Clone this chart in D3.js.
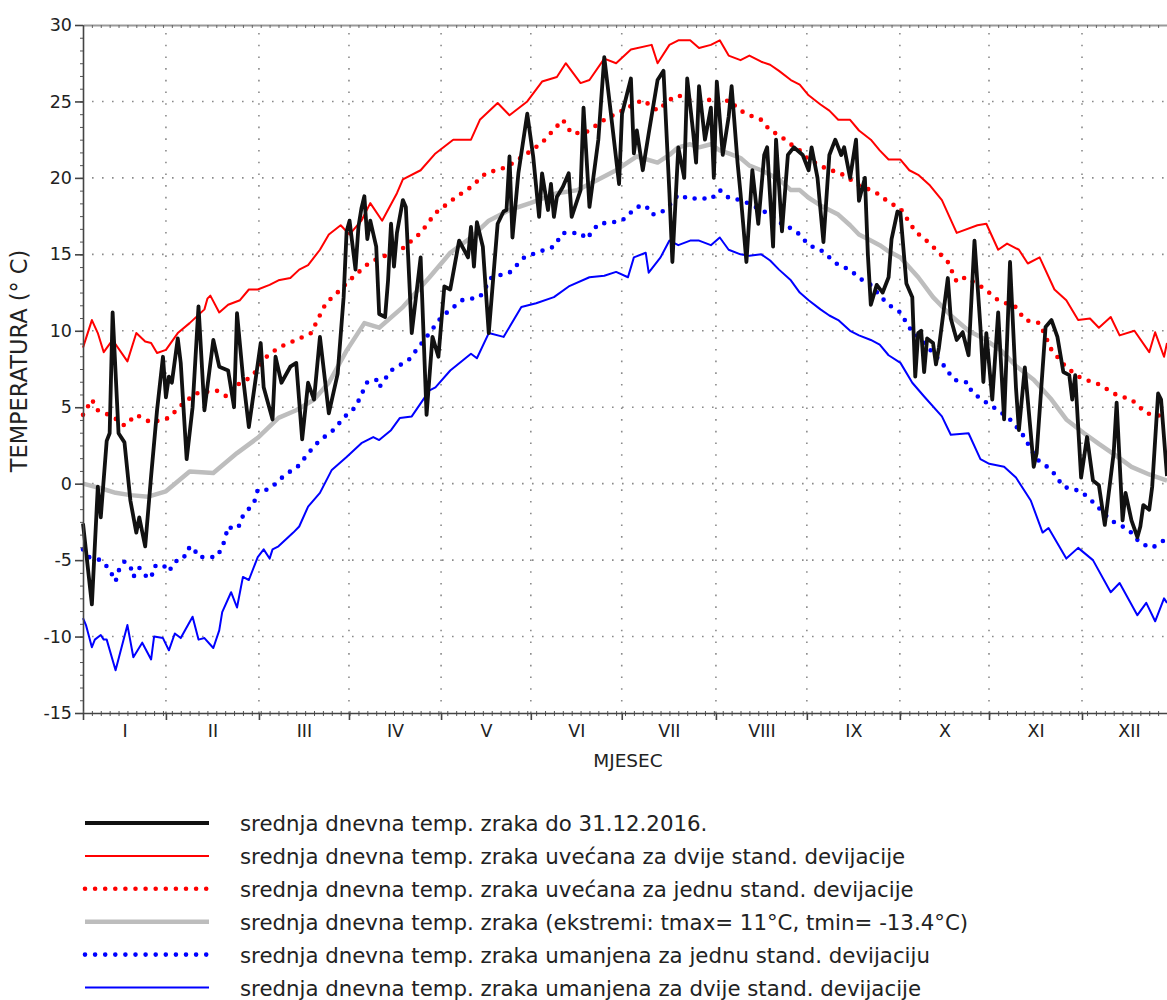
<!DOCTYPE html>
<html><head><meta charset="utf-8">
<script src="https://cdn.jsdelivr.net/npm/d3@7"></script>
<style>
body{margin:0;background:#fff}
svg{display:block;background:#fff}
text{font-family:"DejaVu Sans",sans-serif;fill:#222}
</style>
</head><body>
<svg id="chart" width="1167" height="1000"></svg>
<script>
// ---------- data (day of year index, temperature °C) ----------
const monthLabels = ["I","II","III","IV","V","VI","VII","VIII","IX","X","XI","XII"];
// month boundary ticks, in day units
const monthEdges = [0, 28, 59.4, 89.8, 120.9, 151.2, 181.9, 213.7, 244.4, 275.8, 305.9, 337.3, 369];
const yTicks = [-15,-10,-5,0,5,10,15,20,25,30];
const yGrid = [-10,-5,0,5,10,15,20,25];

const tempMean = [[0,0.0],[6,-0.3],[11,-0.6],[16,-0.75],[22,-0.85],[28,-0.5],[36,0.8],[44,0.7],[52,2.0],[59,3.0],[66,4.3],[72,4.8],[78,5.5],[83,6.6],[89,8.7],[95,10.5],[100,10.2],[108,11.55],[117,13.5],[124,15.1],[131,16.1],[137,17.2],[144,17.9],[151,18.35],[160,19.0],[167,19.2],[174,19.9],[180,20.5],[187,21.4],[194,21.0],[198,21.5],[201,22.0],[205,22.2],[208,22.0],[212,22.2],[215,21.8],[218,21.6],[222,21.3],[225,20.8],[229,20.5],[232,20.2],[235,19.9],[239,19.2],[242,19.2],[245,18.7],[249,18.2],[252,17.9],[255,17.6],[259,16.9],[262,16.3],[266,15.9],[269,15.6],[272,15.2],[276,14.8],[282,13.5],[287,12.2],[293,11.0],[299,10.0],[304,9.5],[310,8.7],[315,7.7],[321,6.8],[327,5.5],[332,4.2],[338,3.3],[343,2.6],[349,1.8],[354,1.1],[360,0.6],[366,0.2]];

const tempPlus2sd = [[0,8.9],[3,10.7],[5,9.85],[7,8.6],[10,9.4],[15,8.0],[18,9.85],[21,9.3],[23,9.2],[25,8.55],[28,8.75],[32,9.85],[36,10.5],[41,11.4],[42,12.1],[43,12.3],[46,11.2],[49,11.7],[53,12.0],[56,12.7],[59,12.7],[63,13.0],[66,13.3],[70,13.45],[73,14.0],[76,14.3],[80,15.3],[83,16.3],[87,16.9],[90,16.3],[94,17.2],[97,18.35],[101,17.2],[106,19.0],[108,19.9],[114,20.5],[119,21.6],[125,22.5],[131,22.5],[134,23.8],[140,24.9],[144,24.1],[150,25.0],[155,26.3],[160,26.6],[163,27.5],[168,26.2],[171,26.4],[176,27.8],[180,27.5],[185,28.4],[192,28.7],[194,27.5],[198,28.7],[201,29.0],[205,29.0],[208,28.5],[212,28.7],[215,29.0],[218,28.0],[222,27.7],[225,28.0],[229,27.6],[232,27.4],[235,27.0],[239,26.4],[242,26.1],[245,25.4],[249,24.8],[252,24.4],[255,23.8],[259,23.8],[262,23.1],[266,22.5],[269,21.8],[272,21.2],[276,21.2],[279,20.5],[282,20.2],[286,19.5],[290,18.55],[295,16.4],[302,16.9],[305,17.0],[309,15.3],[312,15.7],[316,15.3],[319,14.4],[323,14.8],[328,12.7],[332,12.0],[336,10.7],[340,10.8],[343,10.2],[347,10.9],[350,9.7],[355,10.0],[360,8.6],[362,9.9],[365,8.3],[366,9.2]];

const tempPlus1sd = [[0,4.5],[3,5.5],[5,4.8],[10,4.4],[14,3.8],[18,4.5],[23,4.0],[29,4.3],[33,5.1],[38,5.9],[45,6.1],[49,5.65],[52,6.45],[57,7.0],[62,8.3],[66,8.9],[72,9.4],[77,9.85],[82,11.8],[87,12.7],[90,13.3],[94,14.0],[97,14.5],[108,15.4],[114,16.4],[119,17.7],[126,18.75],[131,19.4],[136,20.3],[143,20.7],[150,21.6],[155,22.3],[162,23.8],[165,22.9],[170,23.0],[176,23.8],[182,24.4],[189,25.1],[194,24.4],[198,25.1],[201,25.4],[205,25.1],[208,25.1],[212,25.1],[215,24.8],[218,25.1],[222,24.4],[225,24.1],[229,23.8],[232,23.1],[235,22.8],[239,22.2],[242,21.8],[245,21.2],[249,20.8],[252,20.5],[255,20.4],[259,19.9],[262,19.5],[266,19.2],[269,18.9],[272,18.4],[276,18.0],[281,16.5],[286,15.7],[292,14.5],[295,13.2],[298,13.5],[304,12.8],[309,12.0],[315,11.55],[318,10.7],[323,10.5],[327,8.75],[332,7.6],[337,6.9],[343,6.5],[349,5.8],[354,5.5],[359,4.6],[365,4.4]];

const tempMinus1sd = [[0,-4.3],[2,-4.8],[6,-5.0],[8,-5.4],[10,-6.0],[11,-6.4],[12,-5.7],[14,-5.1],[16,-5.4],[17,-6.1],[19,-5.5],[21,-6.0],[23,-6.2],[24,-5.4],[27,-5.3],[29,-5.75],[31,-5.1],[34,-4.9],[35,-4.3],[37,-4.1],[39,-4.8],[42,-4.8],[45,-4.8],[47,-4.2],[48,-3.55],[49,-2.8],[51,-3.0],[53,-2.7],[54,-2.1],[56,-1.65],[58,-1.1],[59,-0.4],[62,-0.4],[64,-0.2],[66,0.2],[69,0.7],[72,1.0],[77,2.2],[80,2.85],[84,3.4],[89,4.5],[92,5.0],[96,6.65],[99,6.8],[100,6.3],[104,7.4],[110,8.1],[117,9.85],[121,10.9],[128,12.0],[134,12.2],[138,13.5],[144,13.8],[149,14.8],[153,15.1],[159,15.5],[162,16.4],[168,16.4],[170,16.0],[174,17.0],[179,17.1],[182,17.2],[187,18.1],[190,18.2],[192,17.6],[195,17.7],[198,18.2],[201,18.9],[205,18.6],[208,18.7],[212,18.6],[215,19.2],[218,18.7],[222,18.55],[225,18.3],[229,17.9],[232,17.6],[235,17.1],[239,16.7],[242,16.3],[245,15.6],[249,15.3],[252,14.8],[255,14.3],[259,14.0],[262,13.45],[266,13.0],[269,12.3],[272,11.7],[276,11.2],[279,10.2],[284,9.2],[290,7.9],[294,6.8],[299,6.6],[300,6.0],[305,5.3],[309,4.8],[313,4.2],[317,3.3],[322,1.6],[327,0.9],[331,-0.2],[337,-0.5],[341,-1.2],[347,-2.4],[353,-3.0],[357,-3.9],[361,-4.2],[365,-3.7]];

const tempMinus2sd = [[0,-8.8],[1,-9.25],[3,-10.7],[4,-10.2],[6,-9.9],[7,-10.2],[8,-10.2],[11,-12.2],[15,-9.25],[17,-11.35],[20,-10.4],[23,-11.5],[24,-10.0],[27,-10.1],[29,-10.9],[31,-9.8],[33,-10.1],[37,-8.7],[39,-10.2],[41,-10.1],[44,-10.75],[46,-9.6],[47,-8.4],[50,-7.1],[52,-8.1],[54,-6.1],[56,-6.3],[59,-4.8],[61,-4.3],[63,-4.9],[64,-4.3],[66,-4.1],[69,-3.55],[71,-3.2],[73,-2.8],[76,-1.5],[80,-0.6],[84,0.9],[89,1.75],[94,2.65],[98,3.05],[100,2.85],[104,3.5],[107,4.3],[111,4.4],[117,6.1],[119,6.3],[124,7.4],[131,8.5],[133,8.2],[137,9.85],[142,9.6],[148,11.55],[153,11.8],[159,12.2],[164,12.9],[171,13.5],[176,13.6],[180,13.85],[184,13.5],[186,14.8],[190,15.1],[191,13.8],[195,14.8],[198,15.9],[201,15.6],[205,15.9],[208,15.9],[212,15.6],[215,16.1],[218,15.3],[222,15.0],[225,14.9],[229,15.0],[232,14.6],[235,14.0],[239,13.3],[242,12.5],[245,12.0],[249,11.4],[252,11.0],[255,10.7],[259,10.0],[262,9.7],[266,9.4],[269,9.1],[272,8.4],[276,7.9],[280,6.6],[284,5.7],[290,4.4],[293,3.2],[299,3.3],[303,1.6],[306,1.3],[311,1.1],[315,0.4],[320,-1.1],[324,-3.2],[326,-2.9],[332,-4.9],[336,-4.2],[341,-5.0],[347,-7.1],[350,-6.5],[356,-8.6],[359,-7.8],[362,-9.0],[365,-7.5],[366,-7.8]];

const temp2016 = [[0,-2.6],[3,-7.9],[5,-0.2],[6,-2.2],[8,2.8],[9,3.3],[10,11.2],[12,3.3],[14,2.7],[16,-1.1],[18,-3.2],[19,-2.2],[21,-4.1],[23,0.5],[25,4.8],[27,8.3],[28,5.65],[29,7.0],[30,6.6],[32,9.5],[33,7.9],[35,1.6],[37,5.0],[39,11.6],[41,4.8],[44,9.4],[46,7.65],[49,7.4],[51,5.0],[52,11.15],[54,7.0],[56,3.7],[60,9.2],[61,6.3],[64,4.2],[65,8.3],[67,6.6],[70,7.65],[72,7.9],[74,2.9],[76,6.6],[78,5.5],[80,9.6],[83,4.6],[86,7.2],[88,12.2],[89,16.5],[90,17.2],[92,14.0],[93,16.8],[94,18.0],[95,18.8],[96,16.0],[97,17.2],[99,15.5],[100,11.1],[102,10.9],[103,13.3],[104,17.0],[105,14.2],[106,16.4],[108,18.55],[109,18.1],[111,9.85],[114,14.8],[116,4.5],[118,9.6],[120,8.3],[122,12.9],[124,12.7],[127,15.9],[130,14.8],[131,16.8],[132,14.2],[133,17.1],[135,15.5],[137,9.85],[140,17.0],[142,17.8],[143,17.9],[144,21.4],[145,16.1],[147,20.3],[150,24.2],[152,21.4],[154,17.45],[155,20.3],[157,17.9],[158,19.6],[159,17.45],[160,18.75],[162,19.4],[164,20.3],[165,17.45],[168,19.2],[169,24.6],[171,18.1],[174,22.5],[176,27.9],[178,24.6],[181,19.6],[182,24.2],[185,26.5],[186,21.6],[187,23.1],[189,20.5],[191,22.9],[194,26.4],[196,27.0],[198,19.0],[199,14.5],[201,22.0],[203,20.0],[204,26.5],[206,23.0],[207,21.0],[208,26.0],[210,22.5],[212,24.6],[213,20.0],[214,26.3],[216,21.5],[218,24.0],[219,26.0],[221,21.0],[222,19.0],[224,14.5],[226,20.5],[228,17.0],[230,21.5],[231,22.0],[233,15.5],[234,22.5],[236,16.5],[238,21.5],[240,22.0],[243,21.5],[245,20.5],[246,22.0],[248,20.0],[250,15.8],[252,21.5],[254,22.5],[256,21.5],[257,22.0],[259,20.0],[261,22.5],[262,18.5],[264,20.0],[265,15.0],[266,11.7],[268,13.0],[270,12.5],[272,13.5],[273,16.0],[275,17.8],[276,17.7],[278,13.1],[280,12.2],[281,7.0],[282,9.85],[283,10.0],[284,7.3],[285,9.5],[287,9.2],[288,7.8],[289,8.9],[292,13.45],[293,10.8],[295,9.4],[297,9.9],[299,8.4],[301,15.9],[303,10.25],[304,6.65],[305,9.85],[307,5.5],[309,11.2],[311,4.2],[313,14.5],[315,6.3],[316,3.5],[318,7.6],[320,3.3],[321,1.1],[322,2.0],[325,10.25],[327,10.7],[329,9.6],[331,7.3],[333,7.1],[334,5.5],[335,7.1],[337,0.4],[339,3.05],[341,0.2],[343,-0.1],[345,-2.7],[348,2.0],[349,5.3],[351,-2.4],[352,-0.6],[354,-2.4],[356,-3.5],[357,-2.8],[358,-1.4],[360,-1.7],[361,-0.2],[363,5.9],[364,5.5],[366,0.5]];

const legendLabels = [
  "srednja dnevna temp. zraka do 31.12.2016.",
  "srednja dnevna temp. zraka uvećana za dvije stand. devijacije",
  "srednja dnevna temp. zraka uvećana za jednu stand. devijacije",
  "srednja dnevna temp. zraka (ekstremi: tmax= 11°C, tmin= -13.4°C)",
  "srednja dnevna temp. zraka umanjena za jednu stand. devijaciju",
  "srednja dnevna temp. zraka umanjena za dvije stand. devijacije"
];

// ---------- drawing ----------
const svg = d3.select("#chart");
const x = d3.scaleLinear().domain([0, 366]).range([83, 1167]);
const y = d3.scaleLinear().domain([-15, 30]).range([713, 25]);

// grid
const grid = svg.append("g");
grid.selectAll("line.h").data(yGrid).join("line")
  .attr("x1", x(0) + 9).attr("x2", 1167)
  .attr("y1", d => y(d)).attr("y2", d => y(d))
  .attr("stroke", "#8a8a8a").attr("stroke-width", 1.6)
  .attr("stroke-dasharray", "1.6,8.4");
grid.selectAll("line.v").data(monthEdges.slice(1, 12)).join("line")
  .attr("x1", d => x(d)).attr("x2", d => x(d))
  .attr("y1", y(30) + 8).attr("y2", y(-15))
  .attr("stroke", "#8a8a8a").attr("stroke-width", 1.6)
  .attr("stroke-dasharray", "1.6,10.1");

// series
const line = d3.line().x(d => x(d[0])).y(d => y(d[1]));
const styles = [
  {data: tempPlus2sd,  color: "#ff0000", w: 2},
  {data: tempMinus2sd, color: "#0000ff", w: 2},
  {data: tempMean,     color: "#bdbdbd", w: 4.5},
  {data: tempPlus1sd,  color: "#ff0000", w: 4.6, dots: true},
  {data: tempMinus1sd, color: "#0000ff", w: 4.6, dots: true},
  {data: temp2016,     color: "#111111", w: 3.8}
];
const plot = svg.append("g");
styles.forEach(s => {
  const p = plot.append("path").datum(s.data)
    .attr("d", line).attr("fill", "none")
    .attr("stroke", s.color).attr("stroke-width", s.w)
    .attr("stroke-linejoin", "round");
  if (s.dots) p.attr("stroke-dasharray", "0,10").attr("stroke-linecap", "round");
});

// top border with minor ticks
const topAxis = svg.append("g").attr("transform", `translate(0,${y(30)})`)
  .call(d3.axisTop(x).tickValues(d3.range(0, 367, 3)).tickSizeInner(-3).tickSizeOuter(0).tickFormat(""));
topAxis.select(".domain").attr("stroke", "#9a9a9a").attr("stroke-width", 2.2);
topAxis.selectAll(".tick line").attr("stroke", "#666");

// y axis
const minorY = d3.range(-15, 30.01, 5/6);
const yMinor = svg.append("g").attr("transform", `translate(${x(0)},0)`)
  .call(d3.axisLeft(y).tickValues(minorY).tickSize(3).tickFormat(""));
yMinor.select(".domain").remove();
yMinor.selectAll(".tick line").attr("stroke", "#555");
const yAxis = svg.append("g").attr("transform", `translate(${x(0)},0)`)
  .call(d3.axisLeft(y).tickValues(yTicks).tickSize(8).tickSizeOuter(0).tickPadding(3).tickFormat(d => String(d)));
yAxis.select(".domain").attr("stroke", "#444").attr("stroke-width", 1.6);
yAxis.selectAll(".tick line").attr("stroke", "#444").attr("stroke-width", 1.6);
yAxis.selectAll(".tick text").attr("font-size", 17.5).attr("font-family", "DejaVu Sans").attr("fill", "#222");

// x axis
const xMinor = svg.append("g").attr("transform", `translate(0,${y(-15)})`)
  .call(d3.axisBottom(x).tickValues(d3.range(0, 367, 3)).tickSize(3).tickFormat(""));
xMinor.select(".domain").remove();
xMinor.selectAll(".tick line").attr("stroke", "#555").attr("y1", -2);
const xAxis = svg.append("g").attr("transform", `translate(0,${y(-15)})`)
  .call(d3.axisBottom(x).tickValues(monthEdges.slice(0, 12)).tickSize(7).tickSizeOuter(0).tickFormat(""));
xAxis.select(".domain").attr("stroke", "#444").attr("stroke-width", 1.6);
xAxis.selectAll(".tick line").attr("stroke", "#444").attr("stroke-width", 1.6);
const mids = monthLabels.map((m, i) => (monthEdges[i] + monthEdges[i + 1]) / 2);
const xLab = svg.append("g").attr("transform", `translate(0,${y(-15)})`)
  .call(d3.axisBottom(x).tickValues(mids).tickSize(0).tickPadding(12).tickFormat((d, i) => monthLabels[i]));
xLab.select(".domain").remove();
xLab.selectAll(".tick text").attr("font-size", 17.5).attr("font-family", "DejaVu Sans").attr("fill", "#222");

// axis titles
svg.append("text").attr("x", 628).attr("y", 767).attr("text-anchor", "middle").attr("font-size", 18.5).text("MJESEC");
svg.append("text").attr("transform", "translate(27,361) rotate(-90)")
  .attr("text-anchor", "middle").attr("font-size", 22.5).text("TEMPERATURA (° C)");

// legend
const legendStyles = [styles[5], styles[0], styles[3], styles[2], styles[4], styles[1]];
const lg = svg.append("g");
legendLabels.forEach((lab, i) => {
  const ly = 823 + i * 32.9;
  const s = legendStyles[i];
  const l = lg.append("line").attr("x1", 85).attr("x2", 209).attr("y1", ly).attr("y2", ly)
    .attr("stroke", s.color).attr("stroke-width", s.w);
  if (s.dots) l.attr("stroke-dasharray", "0,10.1").attr("stroke-linecap", "round");
  lg.append("text").attr("x", 240).attr("y", ly + 8).attr("font-size", 21.3).text(lab);
});
</script>
</body></html>
